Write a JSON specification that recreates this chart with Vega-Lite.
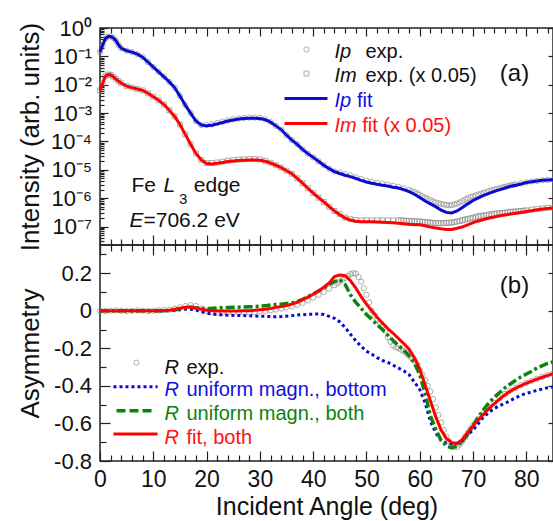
{
  "$schema": "https://vega.github.io/schema/vega-lite/v6.json",
  "padding": {"left": 16, "top": 16, "right": 0, "bottom": 0},
  "spacing": 0,
  "bounds": "flush",
  "config": {
    "font": "Liberation Sans",
    "view": {"stroke": "#222", "strokeWidth": 1.5},
    "axis": {"domain": false, "grid": false, "labelFont": "Liberation Sans", "labelFontSize": 22, "labelColor": "#111", "titleFont": "Liberation Sans", "titleFontSize": 26, "titleFontWeight": "normal", "titleColor": "#111", "tickColor": "#222", "tickWidth": 1.2, "labelFlush": false, "labelOverlap": false},
    "text": {"font": "Liberation Sans", "fontWeight": "normal"}
  },
  "datasets": {
    "one": [{}],
    "top": [
      {"a":0,"ipx":1.41e-1,"imx":6.31e-3,"ipf":1.41e-1,"imf":6.31e-3},
      {"a":0.5,"ipx":2.51e-1,"imx":1.12e-2,"ipf":2.51e-1,"imf":1.12e-2},
      {"a":1,"ipx":4.17e-1,"imx":2.00e-2,"ipf":4.17e-1,"imf":2.00e-2},
      {"a":1.5,"ipx":5.01e-1,"imx":2.29e-2,"ipf":5.01e-1,"imf":2.29e-2},
      {"a":2,"ipx":5.01e-1,"imx":2.24e-2,"ipf":5.01e-1,"imf":2.24e-2},
      {"a":2.5,"ipx":4.47e-1,"imx":1.91e-2,"ipf":4.47e-1,"imf":1.91e-2},
      {"a":3,"ipx":3.55e-1,"imx":1.58e-2,"ipf":3.55e-1,"imf":1.58e-2},
      {"a":3.5,"ipx":2.51e-1,"imx":1.32e-2,"ipf":2.51e-1,"imf":1.32e-2},
      {"a":4,"ipx":1.91e-1,"imx":1.12e-2,"ipf":1.91e-1,"imf":1.12e-2},
      {"a":5,"ipx":1.58e-1,"imx":8.91e-3,"ipf":1.58e-1,"imf":8.91e-3},
      {"a":6,"ipx":1.41e-1,"imx":7.94e-3,"ipf":1.41e-1,"imf":7.94e-3},
      {"a":7,"ipx":1.20e-1,"imx":7.08e-3,"ipf":1.20e-1,"imf":7.08e-3},
      {"a":8,"ipx":9.33e-2,"imx":6.31e-3,"ipf":9.33e-2,"imf":6.31e-3},
      {"a":9,"ipx":6.31e-2,"imx":5.01e-3,"ipf":6.31e-2,"imf":5.01e-3},
      {"a":10,"ipx":4.17e-2,"imx":3.80e-3,"ipf":4.17e-2,"imf":3.80e-3},
      {"a":11,"ipx":2.82e-2,"imx":2.82e-3,"ipf":2.82e-2,"imf":2.82e-3},
      {"a":12,"ipx":1.91e-2,"imx":2.00e-3,"ipf":1.91e-2,"imf":2.00e-3},
      {"a":13,"ipx":1.26e-2,"imx":1.26e-3,"ipf":1.26e-2,"imf":1.26e-3},
      {"a":14,"ipx":7.94e-3,"imx":7.59e-4,"ipf":7.94e-3,"imf":7.59e-4},
      {"a":15,"ipx":3.98e-3,"imx":3.98e-4,"ipf":3.98e-3,"imf":3.98e-4},
      {"a":16,"ipx":1.91e-3,"imx":1.78e-4,"ipf":1.91e-3,"imf":1.78e-4},
      {"a":17,"ipx":1.00e-3,"imx":7.94e-5,"ipf":1.00e-3,"imf":7.94e-5},
      {"a":18,"ipx":5.25e-4,"imx":3.80e-5,"ipf":5.25e-4,"imf":3.80e-5},
      {"a":19,"ipx":3.80e-4,"imx":2.24e-5,"ipf":3.80e-4,"imf":2.24e-5},
      {"a":20,"ipx":3.80e-4,"imx":1.74e-5,"ipf":3.55e-4,"imf":1.66e-5},
      {"a":21,"ipx":3.98e-4,"imx":1.74e-5,"ipf":3.72e-4,"imf":1.62e-5},
      {"a":22,"ipx":4.47e-4,"imx":1.82e-5,"ipf":4.17e-4,"imf":1.70e-5},
      {"a":23,"ipx":5.01e-4,"imx":1.95e-5,"ipf":4.68e-4,"imf":1.82e-5},
      {"a":24,"ipx":5.50e-4,"imx":2.09e-5,"ipf":5.25e-4,"imf":1.95e-5},
      {"a":25,"ipx":6.03e-4,"imx":2.19e-5,"ipf":5.75e-4,"imf":2.04e-5},
      {"a":26,"ipx":6.46e-4,"imx":2.29e-5,"ipf":6.17e-4,"imf":2.14e-5},
      {"a":27,"ipx":6.76e-4,"imx":2.34e-5,"ipf":6.46e-4,"imf":2.19e-5},
      {"a":28,"ipx":6.92e-4,"imx":2.40e-5,"ipf":6.61e-4,"imf":2.24e-5},
      {"a":29,"ipx":6.92e-4,"imx":2.40e-5,"ipf":6.61e-4,"imf":2.24e-5},
      {"a":30,"ipx":6.76e-4,"imx":2.34e-5,"ipf":6.46e-4,"imf":2.19e-5},
      {"a":31,"ipx":6.03e-4,"imx":2.09e-5,"ipf":5.89e-4,"imf":2.00e-5},
      {"a":32,"ipx":4.90e-4,"imx":1.78e-5,"ipf":4.79e-4,"imf":1.74e-5},
      {"a":33,"ipx":3.55e-4,"imx":1.45e-5,"ipf":3.55e-4,"imf":1.45e-5},
      {"a":34,"ipx":2.63e-4,"imx":1.20e-5,"ipf":2.63e-4,"imf":1.20e-5},
      {"a":35,"ipx":1.66e-4,"imx":9.33e-6,"ipf":1.66e-4,"imf":9.33e-6},
      {"a":36,"ipx":1.12e-4,"imx":7.24e-6,"ipf":1.12e-4,"imf":7.24e-6},
      {"a":37,"ipx":7.94e-5,"imx":5.01e-6,"ipf":7.94e-5,"imf":5.01e-6},
      {"a":38,"ipx":5.25e-5,"imx":3.39e-6,"ipf":5.25e-5,"imf":3.39e-6},
      {"a":39,"ipx":3.72e-5,"imx":2.24e-6,"ipf":3.72e-5,"imf":2.24e-6},
      {"a":40,"ipx":2.75e-5,"imx":1.51e-6,"ipf":2.75e-5,"imf":1.51e-6},
      {"a":41,"ipx":2.00e-5,"imx":1.05e-6,"ipf":2.00e-5,"imf":1.05e-6},
      {"a":42,"ipx":1.45e-5,"imx":7.41e-7,"ipf":1.45e-5,"imf":7.41e-7},
      {"a":43,"ipx":1.10e-5,"imx":5.01e-7,"ipf":1.10e-5,"imf":5.01e-7},
      {"a":44,"ipx":8.71e-6,"imx":3.55e-7,"ipf":8.71e-6,"imf":3.55e-7},
      {"a":45,"ipx":8.13e-6,"imx":2.75e-7,"ipf":7.41e-6,"imf":2.63e-7},
      {"a":46,"ipx":7.08e-6,"imx":2.09e-7,"ipf":6.46e-6,"imf":2.00e-7},
      {"a":47,"ipx":6.31e-6,"imx":1.82e-7,"ipf":5.75e-6,"imf":1.70e-7},
      {"a":48,"ipx":5.50e-6,"imx":1.70e-7,"ipf":5.01e-6,"imf":1.55e-7},
      {"a":49,"ipx":4.79e-6,"imx":1.66e-7,"ipf":4.27e-6,"imf":1.48e-7},
      {"a":50,"ipx":4.17e-6,"imx":1.66e-7,"ipf":3.72e-6,"imf":1.48e-7},
      {"a":51,"ipx":3.80e-6,"imx":1.66e-7,"ipf":3.39e-6,"imf":1.48e-7},
      {"a":52,"ipx":3.47e-6,"imx":1.66e-7,"ipf":3.09e-6,"imf":1.45e-7},
      {"a":53,"ipx":3.24e-6,"imx":1.66e-7,"ipf":2.88e-6,"imf":1.41e-7},
      {"a":54,"ipx":3.02e-6,"imx":1.66e-7,"ipf":2.69e-6,"imf":1.38e-7},
      {"a":55,"ipx":2.75e-6,"imx":1.66e-7,"ipf":2.45e-6,"imf":1.35e-7},
      {"a":56,"ipx":2.51e-6,"imx":1.66e-7,"ipf":2.29e-6,"imf":1.32e-7},
      {"a":57,"ipx":2.24e-6,"imx":1.62e-7,"ipf":2.00e-6,"imf":1.26e-7},
      {"a":58,"ipx":1.95e-6,"imx":1.58e-7,"ipf":1.70e-6,"imf":1.20e-7},
      {"a":59,"ipx":1.62e-6,"imx":1.55e-7,"ipf":1.38e-6,"imf":1.17e-7},
      {"a":60,"ipx":1.32e-6,"imx":1.51e-7,"ipf":1.05e-6,"imf":1.15e-7},
      {"a":61,"ipx":1.05e-6,"imx":1.45e-7,"ipf":7.94e-7,"imf":1.07e-7},
      {"a":62,"ipx":8.51e-7,"imx":1.38e-7,"ipf":6.31e-7,"imf":9.55e-8},
      {"a":63,"ipx":7.08e-7,"imx":1.32e-7,"ipf":5.01e-7,"imf":8.91e-8},
      {"a":64,"ipx":6.31e-7,"imx":1.32e-7,"ipf":3.80e-7,"imf":8.32e-8},
      {"a":65,"ipx":5.75e-7,"imx":1.35e-7,"ipf":3.16e-7,"imf":7.94e-8},
      {"a":66,"ipx":5.75e-7,"imx":1.38e-7,"ipf":3.02e-7,"imf":7.94e-8},
      {"a":67,"ipx":6.46e-7,"imx":1.51e-7,"ipf":3.55e-7,"imf":8.71e-8},
      {"a":68,"ipx":7.94e-7,"imx":1.66e-7,"ipf":4.68e-7,"imf":9.77e-8},
      {"a":69,"ipx":1.00e-6,"imx":1.86e-7,"ipf":6.31e-7,"imf":1.15e-7},
      {"a":70,"ipx":1.17e-6,"imx":2.04e-7,"ipf":8.32e-7,"imf":1.38e-7},
      {"a":71,"ipx":1.35e-6,"imx":2.29e-7,"ipf":1.02e-6,"imf":1.58e-7},
      {"a":72,"ipx":1.55e-6,"imx":2.45e-7,"ipf":1.26e-6,"imf":1.78e-7},
      {"a":73,"ipx":1.78e-6,"imx":2.63e-7,"ipf":1.48e-6,"imf":2.00e-7},
      {"a":74,"ipx":2.00e-6,"imx":2.82e-7,"ipf":1.74e-6,"imf":2.19e-7},
      {"a":75,"ipx":2.24e-6,"imx":2.95e-7,"ipf":2.00e-6,"imf":2.40e-7},
      {"a":76,"ipx":2.51e-6,"imx":3.09e-7,"ipf":2.29e-6,"imf":2.57e-7},
      {"a":77,"ipx":2.82e-6,"imx":3.31e-7,"ipf":2.63e-6,"imf":2.75e-7},
      {"a":78,"ipx":3.09e-6,"imx":3.39e-7,"ipf":2.88e-6,"imf":2.95e-7},
      {"a":79,"ipx":3.31e-6,"imx":3.55e-7,"ipf":3.16e-6,"imf":3.16e-7},
      {"a":80,"ipx":3.63e-6,"imx":3.72e-7,"ipf":3.55e-6,"imf":3.39e-7},
      {"a":81,"ipx":3.89e-6,"imx":3.98e-7,"ipf":3.80e-6,"imf":3.63e-7},
      {"a":82,"ipx":4.07e-6,"imx":4.17e-7,"ipf":4.07e-6,"imf":3.89e-7},
      {"a":83,"ipx":4.27e-6,"imx":4.37e-7,"ipf":4.27e-6,"imf":4.17e-7},
      {"a":84,"ipx":4.37e-6,"imx":4.57e-7,"ipf":4.37e-6,"imf":4.37e-7},
      {"a":85,"ipx":4.47e-6,"imx":4.68e-7,"ipf":4.47e-6,"imf":4.47e-7}
    ],
    "topIpExtra": [
      {"a":58.5,"ipx":1.78e-6},{"a":59.5,"ipx":1.48e-6},{"a":60.5,"ipx":1.17e-6},{"a":61.5,"ipx":9.55e-7},
      {"a":62.5,"ipx":7.76e-7},{"a":63.5,"ipx":6.61e-7},{"a":64.5,"ipx":6.03e-7},{"a":65.5,"ipx":5.62e-7},
      {"a":66.5,"ipx":6.03e-7},{"a":67.5,"ipx":7.08e-7},{"a":68.5,"ipx":8.91e-7},{"a":69.5,"ipx":1.10e-6},
      {"a":70.5,"ipx":1.26e-6},{"a":71.5,"ipx":1.45e-6},{"a":72.5,"ipx":1.66e-6},{"a":73.5,"ipx":1.91e-6},
      {"a":74.5,"ipx":2.14e-6},{"a":75.5,"ipx":2.40e-6},{"a":76.5,"ipx":2.69e-6},{"a":77.5,"ipx":2.95e-6}
    ],
    "topImExtra": [
      {"a":56.5,"imx":1.66e-7},{"a":57.5,"imx":1.60e-7},{"a":58.5,"imx":1.57e-7},{"a":59.5,"imx":1.53e-7},
      {"a":60.5,"imx":1.48e-7},{"a":61.5,"imx":1.41e-7},{"a":62.5,"imx":1.35e-7},{"a":63.5,"imx":1.32e-7},
      {"a":64.5,"imx":1.33e-7},{"a":65.5,"imx":1.36e-7},{"a":66.5,"imx":1.44e-7},{"a":67.5,"imx":1.58e-7},
      {"a":68.5,"imx":1.76e-7},{"a":69.5,"imx":1.95e-7},{"a":70.5,"imx":2.16e-7},{"a":71.5,"imx":2.37e-7},
      {"a":72.5,"imx":2.54e-7},{"a":73.5,"imx":2.72e-7},{"a":74.5,"imx":2.88e-7},{"a":75.5,"imx":3.02e-7},
      {"a":76.5,"imx":3.20e-7},{"a":77.5,"imx":3.35e-7},{"a":78.5,"imx":3.47e-7},{"a":79.5,"imx":3.63e-7}
    ],
    "bottom": [
      {"a":0,"rx":0,"ru":0,"rb":0,"rf":0},
      {"a":1,"rx":-0.002,"ru":0,"rb":0,"rf":0},
      {"a":2,"rx":0,"ru":0,"rb":0,"rf":0},
      {"a":3,"rx":0.002,"ru":0,"rb":0,"rf":0},
      {"a":4,"rx":0,"ru":0,"rb":0,"rf":0},
      {"a":5,"rx":-0.002,"ru":0,"rb":0,"rf":0},
      {"a":6,"rx":0,"ru":0,"rb":0,"rf":0},
      {"a":7,"rx":0.002,"ru":0,"rb":0,"rf":0},
      {"a":8,"rx":0,"ru":0,"rb":0,"rf":0},
      {"a":9,"rx":-0.002,"ru":0,"rb":0,"rf":0},
      {"a":10,"rx":0,"ru":0,"rb":0,"rf":0},
      {"a":11,"rx":0.002,"ru":0,"rb":0,"rf":0},
      {"a":12,"rx":0.003,"ru":0,"rb":0,"rf":0.001},
      {"a":13,"rx":0.006,"ru":0.001,"rb":0.001,"rf":0.003},
      {"a":14,"rx":0.011,"ru":0.002,"rb":0.004,"rf":0.008},
      {"a":15,"rx":0.018,"ru":0.005,"rb":0.01,"rf":0.013},
      {"a":16,"rx":0.025,"ru":0.008,"rb":0.015,"rf":0.018},
      {"a":17,"rx":0.03,"ru":0.008,"rb":0.018,"rf":0.02},
      {"a":18,"rx":0.025,"ru":0.003,"rb":0.015,"rf":0.015},
      {"a":19,"rx":0.012,"ru":-0.005,"rb":0.012,"rf":0.008},
      {"a":20,"rx":0,"ru":-0.012,"rb":0.012,"rf":0.002},
      {"a":21,"rx":-0.008,"ru":-0.017,"rb":0.013,"rf":0},
      {"a":22,"rx":-0.01,"ru":-0.02,"rb":0.015,"rf":-0.001},
      {"a":23,"rx":-0.01,"ru":-0.022,"rb":0.016,"rf":-0.002},
      {"a":24,"rx":-0.01,"ru":-0.024,"rb":0.017,"rf":-0.002},
      {"a":25,"rx":-0.01,"ru":-0.025,"rb":0.018,"rf":-0.002},
      {"a":26,"rx":-0.01,"ru":-0.025,"rb":0.019,"rf":-0.001},
      {"a":27,"rx":-0.01,"ru":-0.026,"rb":0.02,"rf":0},
      {"a":28,"rx":-0.009,"ru":-0.027,"rb":0.021,"rf":0},
      {"a":29,"rx":-0.008,"ru":-0.028,"rb":0.022,"rf":0.002},
      {"a":30,"rx":-0.005,"ru":-0.029,"rb":0.024,"rf":0.005},
      {"a":31,"rx":-0.002,"ru":-0.03,"rb":0.027,"rf":0.008},
      {"a":32,"rx":0.002,"ru":-0.031,"rb":0.03,"rf":0.012},
      {"a":33,"rx":0.006,"ru":-0.032,"rb":0.033,"rf":0.018},
      {"a":34,"rx":0.012,"ru":-0.031,"rb":0.035,"rf":0.022},
      {"a":35,"rx":0.018,"ru":-0.029,"rb":0.038,"rf":0.028},
      {"a":36,"rx":0.024,"ru":-0.026,"rb":0.042,"rf":0.035},
      {"a":37,"rx":0.032,"ru":-0.023,"rb":0.05,"rf":0.045},
      {"a":38,"rx":0.042,"ru":-0.021,"rb":0.06,"rf":0.058},
      {"a":39,"rx":0.055,"ru":-0.019,"rb":0.075,"rf":0.072},
      {"a":40,"rx":0.07,"ru":-0.018,"rb":0.09,"rf":0.088},
      {"a":41,"rx":0.085,"ru":-0.018,"rb":0.105,"rf":0.105},
      {"a":42,"rx":0.1,"ru":-0.02,"rb":0.12,"rf":0.125},
      {"a":43,"rx":0.118,"ru":-0.03,"rb":0.14,"rf":0.148},
      {"a":44,"rx":0.136,"ru":-0.04,"rb":0.155,"rf":0.182},
      {"a":45,"rx":0.155,"ru":-0.06,"rb":0.165,"rf":0.19},
      {"a":46,"rx":0.175,"ru":-0.09,"rb":0.14,"rf":0.187},
      {"a":47,"rx":0.195,"ru":-0.125,"rb":0.085,"rf":0.16},
      {"a":48,"rx":0.198,"ru":-0.16,"rb":0.045,"rf":0.12},
      {"a":49,"rx":0.155,"ru":-0.19,"rb":0.013,"rf":0.075},
      {"a":50,"rx":0.085,"ru":-0.215,"rb":-0.02,"rf":0.035},
      {"a":51,"rx":0.0,"ru":-0.232,"rb":-0.045,"rf":0.0},
      {"a":52,"rx":-0.05,"ru":-0.25,"rb":-0.075,"rf":-0.035},
      {"a":53,"rx":-0.08,"ru":-0.265,"rb":-0.1,"rf":-0.065},
      {"a":54,"rx":-0.14,"ru":-0.275,"rb":-0.13,"rf":-0.095},
      {"a":55,"rx":-0.185,"ru":-0.29,"rb":-0.158,"rf":-0.12},
      {"a":56,"rx":-0.2,"ru":-0.305,"rb":-0.185,"rf":-0.148},
      {"a":57,"rx":-0.215,"ru":-0.32,"rb":-0.21,"rf":-0.175},
      {"a":58,"rx":-0.24,"ru":-0.34,"rb":-0.24,"rf":-0.205},
      {"a":59,"rx":-0.265,"ru":-0.38,"rb":-0.28,"rf":-0.25},
      {"a":60,"rx":-0.315,"ru":-0.42,"rb":-0.34,"rf":-0.31},
      {"a":61,"rx":-0.37,"ru":-0.49,"rb":-0.44,"rf":-0.395},
      {"a":62,"rx":-0.43,"ru":-0.59,"rb":-0.56,"rf":-0.48},
      {"a":63,"rx":-0.515,"ru":-0.65,"rb":-0.63,"rf":-0.565},
      {"a":64,"rx":-0.595,"ru":-0.69,"rb":-0.69,"rf":-0.635},
      {"a":65,"rx":-0.67,"ru":-0.705,"rb":-0.72,"rf":-0.68},
      {"a":66,"rx":-0.715,"ru":-0.71,"rb":-0.73,"rf":-0.703},
      {"a":67,"rx":-0.725,"ru":-0.705,"rb":-0.72,"rf":-0.706},
      {"a":68,"rx":-0.695,"ru":-0.695,"rb":-0.695,"rf":-0.685},
      {"a":69,"rx":-0.65,"ru":-0.66,"rb":-0.655,"rf":-0.648},
      {"a":70,"rx":-0.61,"ru":-0.635,"rb":-0.61,"rf":-0.612},
      {"a":71,"rx":-0.575,"ru":-0.6,"rb":-0.565,"rf":-0.58},
      {"a":72,"rx":-0.545,"ru":-0.565,"rb":-0.525,"rf":-0.55},
      {"a":73,"rx":-0.515,"ru":-0.54,"rb":-0.49,"rf":-0.52},
      {"a":74,"rx":-0.49,"ru":-0.52,"rb":-0.46,"rf":-0.495},
      {"a":75,"rx":-0.465,"ru":-0.505,"rb":-0.435,"rf":-0.47},
      {"a":76,"rx":-0.443,"ru":-0.493,"rb":-0.41,"rf":-0.447},
      {"a":77,"rx":-0.425,"ru":-0.478,"rb":-0.39,"rf":-0.428},
      {"a":78,"rx":-0.41,"ru":-0.463,"rb":-0.37,"rf":-0.412},
      {"a":79,"rx":-0.396,"ru":-0.45,"rb":-0.352,"rf":-0.398},
      {"a":80,"rx":-0.384,"ru":-0.44,"rb":-0.337,"rf":-0.386},
      {"a":81,"rx":-0.373,"ru":-0.432,"rb":-0.322,"rf":-0.375},
      {"a":82,"rx":-0.362,"ru":-0.424,"rb":-0.305,"rf":-0.364},
      {"a":83,"rx":-0.352,"ru":-0.417,"rb":-0.292,"rf":-0.354},
      {"a":84,"rx":-0.342,"ru":-0.41,"rb":-0.28,"rf":-0.344},
      {"a":85,"rx":-0.335,"ru":-0.405,"rb":-0.272,"rf":-0.335}
    ],
    "bottomExtra": [
      {"a":44.5,"rx":0.145},{"a":45.5,"rx":0.165},{"a":46.5,"rx":0.185},{"a":47.5,"rx":0.2},
      {"a":48.5,"rx":0.18},{"a":49.5,"rx":0.12},{"a":50.5,"rx":0.045},{"a":51.5,"rx":-0.025},
      {"a":52.5,"rx":-0.065},{"a":53.5,"rx":-0.105},{"a":54.5,"rx":-0.165},{"a":55.5,"rx":-0.195},
      {"a":56.5,"rx":-0.208},{"a":57.5,"rx":-0.227},{"a":58.5,"rx":-0.252},{"a":59.5,"rx":-0.285},
      {"a":60.5,"rx":-0.34},{"a":61.5,"rx":-0.4},{"a":62.5,"rx":-0.47},{"a":63.5,"rx":-0.555},
      {"a":64.5,"rx":-0.635},{"a":65.5,"rx":-0.695},{"a":66.5,"rx":-0.724},{"a":67.5,"rx":-0.712},
      {"a":68.5,"rx":-0.672},{"a":69.5,"rx":-0.63}
    ]
  },
  "vconcat": [
    {
      "width": 453,
      "height": 217,
      "data": {"name": "top"},
      "resolve": {"axis": {"x": "independent", "y": "independent"}},
      "layer": [
        {
          "mark": {"type": "point", "shape": "circle", "filled": false, "color": "#8a8a8a", "size": 28, "strokeWidth": 1},
          "encoding": {
            "x": {"field": "a", "type": "quantitative", "scale": {"domain": [0, 85], "nice": false, "zero": false},
              "axis": {"orient": "bottom", "values": [0,10,20,30,40,50,60,70,80], "tickSize": -10, "labels": false, "title": null}},
            "y": {"field": "ipx", "type": "quantitative", "scale": {"type": "log", "domain": [2.24e-8, 1], "nice": false},
              "axis": {"orient": "left", "values": [1e-7,1e-6,1e-5,1e-4,1e-3,1e-2,1e-1,1], "tickSize": -8, "labelPadding": 16.5,
                "labelExpr": "round(log(datum.value)/LN10) == 0 ? '10⁰' : '10⁻' + ['','¹','²','³','⁴','⁵','⁶','⁷','⁸'][abs(round(log(datum.value)/LN10))]",
                "title": "Intensity (arb. units)", "titleX": -61.5, "titleBaseline": "alphabetic"}}
          }
        },
        {
          "mark": {"type": "point", "shape": "square", "filled": false, "color": "#8a8a8a", "size": 24, "strokeWidth": 1},
          "encoding": {
            "x": {"field": "a", "type": "quantitative", "scale": {"domain": [0, 85], "nice": false, "zero": false},
              "axis": {"orient": "bottom", "values": [2,4,6,8,12,14,16,18,22,24,26,28,32,34,36,38,42,44,46,48,52,54,56,58,62,64,66,68,72,74,76,78,82,84], "tickSize": -6, "labels": false, "title": null}},
            "y": {"field": "imx", "type": "quantitative", "scale": {"type": "log", "domain": [2.24e-8, 1], "nice": false},
              "axis": {"orient": "left", "values": [3e-8,4e-8,5e-8,6e-8,7e-8,8e-8,9e-8,2e-7,3e-7,4e-7,5e-7,6e-7,7e-7,8e-7,9e-7,2e-6,3e-6,4e-6,5e-6,6e-6,7e-6,8e-6,9e-6,2e-5,3e-5,4e-5,5e-5,6e-5,7e-5,8e-5,9e-5,2e-4,3e-4,4e-4,5e-4,6e-4,7e-4,8e-4,9e-4,2e-3,3e-3,4e-3,5e-3,6e-3,7e-3,8e-3,9e-3,2e-2,3e-2,4e-2,5e-2,6e-2,7e-2,8e-2,9e-2,0.2,0.3,0.4,0.5,0.6,0.7,0.8,0.9], "tickSize": -4, "labels": false, "title": null}}
          }
        },
        {
          "data": {"name": "topIpExtra"},
          "mark": {"type": "point", "shape": "circle", "filled": false, "color": "#8a8a8a", "size": 28, "strokeWidth": 1},
          "encoding": {
            "x": {"field": "a", "type": "quantitative", "axis": null},
            "y": {"field": "ipx", "type": "quantitative", "axis": null}
          }
        },
        {
          "data": {"name": "topImExtra"},
          "mark": {"type": "point", "shape": "square", "filled": false, "color": "#8a8a8a", "size": 24, "strokeWidth": 1},
          "encoding": {
            "x": {"field": "a", "type": "quantitative", "axis": null},
            "y": {"field": "imx", "type": "quantitative", "axis": null}
          }
        },
        {
          "mark": {"type": "line", "color": "#0a0ad0", "strokeWidth": 3},
          "encoding": {
            "x": {"field": "a", "type": "quantitative", "scale": {"domain": [0, 85], "nice": false, "zero": false},
              "axis": {"orient": "top", "values": [0,10,20,30,40,50,60,70,80], "tickSize": -8, "labels": false, "title": null}},
            "y": {"field": "ipf", "type": "quantitative", "scale": {"type": "log", "domain": [2.24e-8, 1], "nice": false},
              "axis": {"orient": "right", "values": [1e-7,1e-6,1e-5,1e-4,1e-3,1e-2,1e-1,1], "tickSize": -5, "labels": false, "title": null}}
          }
        },
        {
          "mark": {"type": "line", "color": "#ff0000", "strokeWidth": 3},
          "encoding": {
            "x": {"field": "a", "type": "quantitative", "scale": {"domain": [0, 85], "nice": false, "zero": false},
              "axis": {"orient": "top", "values": [2,4,6,8,12,14,16,18,22,24,26,28,32,34,36,38,42,44,46,48,52,54,56,58,62,64,66,68,72,74,76,78,82,84], "tickSize": -5, "labels": false, "title": null}},
            "y": {"field": "imf", "type": "quantitative", "scale": {"type": "log", "domain": [2.24e-8, 1], "nice": false}, "axis": null}
          }
        },
        {"data": {"name": "one"}, "mark": {"type": "point", "shape": "circle", "filled": false, "color": "#8a8a8a", "size": 28, "strokeWidth": 1},
         "encoding": {"x": {"datum": 38.74, "axis": null}, "y": {"datum": 0.1746, "axis": null}}},
        {"data": {"name": "one"}, "mark": {"type": "point", "shape": "square", "filled": false, "color": "#8a8a8a", "size": 24, "strokeWidth": 1},
         "encoding": {"x": {"datum": 38.74, "axis": null}, "y": {"datum": 0.02489, "axis": null}}},
        {"data": {"name": "one"}, "mark": {"type": "rule", "color": "#0a0ad0", "strokeWidth": 3},
         "encoding": {"x": {"datum": 34.62, "axis": null}, "x2": {"datum": 42.68}, "y": {"datum": 0.003273, "axis": null}}},
        {"data": {"name": "one"}, "mark": {"type": "rule", "color": "#ff0000", "strokeWidth": 3},
         "encoding": {"x": {"datum": 34.62, "axis": null}, "x2": {"datum": 42.68}, "y": {"datum": 0.0004305, "axis": null}}},
        {"data": {"name": "one"}, "mark": {"type": "text", "text": "Ip", "fontSize": 20, "fontStyle": "italic", "align": "left", "baseline": "middle", "fill": "#111"},
         "encoding": {"x": {"datum": 44.0, "axis": null}, "y": {"datum": 0.138, "axis": null}}},
        {"data": {"name": "one"}, "mark": {"type": "text", "text": "exp.", "fontSize": 20, "align": "left", "baseline": "middle", "fill": "#111"},
         "encoding": {"x": {"datum": 49.8, "axis": null}, "y": {"datum": 0.138, "axis": null}}},
        {"data": {"name": "one"}, "mark": {"type": "text", "text": "Im", "fontSize": 20, "fontStyle": "italic", "align": "left", "baseline": "middle", "fill": "#111"},
         "encoding": {"x": {"datum": 44.0, "axis": null}, "y": {"datum": 0.02084, "axis": null}}},
        {"data": {"name": "one"}, "mark": {"type": "text", "text": "exp. (x 0.05)", "fontSize": 20, "align": "left", "baseline": "middle", "fill": "#111"},
         "encoding": {"x": {"datum": 49.8, "axis": null}, "y": {"datum": 0.02084, "axis": null}}},
        {"data": {"name": "one"}, "mark": {"type": "text", "text": "Ip", "fontSize": 20, "fontStyle": "italic", "align": "left", "baseline": "middle", "fill": "#1010e0"},
         "encoding": {"x": {"datum": 44.0, "axis": null}, "y": {"datum": 0.002673, "axis": null}}},
        {"data": {"name": "one"}, "mark": {"type": "text", "text": "fit", "fontSize": 20, "align": "left", "baseline": "middle", "fill": "#1010e0"},
         "encoding": {"x": {"datum": 48.2, "axis": null}, "y": {"datum": 0.002673, "axis": null}}},
        {"data": {"name": "one"}, "mark": {"type": "text", "text": "Im", "fontSize": 20, "fontStyle": "italic", "align": "left", "baseline": "middle", "fill": "#ff1010"},
         "encoding": {"x": {"datum": 44.0, "axis": null}, "y": {"datum": 0.0003516, "axis": null}}},
        {"data": {"name": "one"}, "mark": {"type": "text", "text": "fit (x 0.05)", "fontSize": 20, "align": "left", "baseline": "middle", "fill": "#ff1010"},
         "encoding": {"x": {"datum": 49.2, "axis": null}, "y": {"datum": 0.0003516, "axis": null}}},
        {"data": {"name": "one"}, "mark": {"type": "text", "text": "(a)", "fontSize": 24, "align": "center", "baseline": "middle", "fill": "#111"},
         "encoding": {"x": {"datum": 77.77, "axis": null}, "y": {"datum": 0.02312, "axis": null}}},
        {"data": {"name": "one"}, "mark": {"type": "text", "text": "Fe", "fontSize": 21, "align": "left", "baseline": "middle", "fill": "#111"},
         "encoding": {"x": {"datum": 5.91, "axis": null}, "y": {"datum": 2.65e-6, "axis": null}}},
        {"data": {"name": "one"}, "mark": {"type": "text", "text": "L", "fontSize": 21, "fontStyle": "italic", "align": "left", "baseline": "middle", "fill": "#111"},
         "encoding": {"x": {"datum": 11.9, "axis": null}, "y": {"datum": 2.65e-6, "axis": null}}},
        {"data": {"name": "one"}, "mark": {"type": "text", "text": "3", "fontSize": 15, "align": "left", "baseline": "middle", "fill": "#111"},
         "encoding": {"x": {"datum": 14.8, "axis": null}, "y": {"datum": 9.62e-7, "axis": null}}},
        {"data": {"name": "one"}, "mark": {"type": "text", "text": "edge", "fontSize": 21, "align": "left", "baseline": "middle", "fill": "#111"},
         "encoding": {"x": {"datum": 17.6, "axis": null}, "y": {"datum": 2.65e-6, "axis": null}}},
        {"data": {"name": "one"}, "mark": {"type": "text", "text": "E", "fontSize": 21, "fontStyle": "italic", "align": "left", "baseline": "middle", "fill": "#111"},
         "encoding": {"x": {"datum": 5.53, "axis": null}, "y": {"datum": 1.51e-7, "axis": null}}},
        {"data": {"name": "one"}, "mark": {"type": "text", "text": "=706.2 eV", "fontSize": 21, "align": "left", "baseline": "middle", "fill": "#111"},
         "encoding": {"x": {"datum": 8.16, "axis": null}, "y": {"datum": 1.51e-7, "axis": null}}}
      ]
    },
    {
      "width": 453,
      "height": 216,
      "data": {"name": "bottom"},
      "resolve": {"axis": {"x": "independent", "y": "independent"}},
      "layer": [
        {
          "mark": {"type": "point", "shape": "circle", "filled": false, "color": "#8a8a8a", "size": 28, "strokeWidth": 1},
          "encoding": {
            "x": {"field": "a", "type": "quantitative", "scale": {"domain": [0, 85], "nice": false, "zero": false},
              "axis": {"orient": "bottom", "values": [0,10,20,30,40,50,60,70,80], "tickSize": -10, "labelPadding": 17, "labelFontSize": 23,
                "title": "Incident Angle (deg)", "titleFontSize": 25, "titleY": 53, "titleBaseline": "alphabetic"}},
            "y": {"field": "rx", "type": "quantitative", "scale": {"domain": [-0.8, 0.35], "nice": false, "zero": false},
              "axis": {"orient": "left", "values": [-0.8,-0.6,-0.4,-0.2,0,0.2], "tickSize": -10, "labelPadding": 18.5,
                "labelExpr": "datum.value == 0 ? '0' : replace(format(datum.value, '.1f'), '−', '-')",
                "title": "Asymmetry", "titleX": -61.5, "titleBaseline": "alphabetic"}}
          }
        },
        {
          "data": {"name": "bottomExtra"},
          "mark": {"type": "point", "shape": "circle", "filled": false, "color": "#8a8a8a", "size": 28, "strokeWidth": 1},
          "encoding": {
            "x": {"field": "a", "type": "quantitative", "axis": null},
            "y": {"field": "rx", "type": "quantitative", "axis": null}
          }
        },
        {
          "mark": {"type": "line", "color": "#0a0ad0", "strokeWidth": 3, "strokeDash": [3, 3]},
          "encoding": {
            "x": {"field": "a", "type": "quantitative", "scale": {"domain": [0, 85], "nice": false, "zero": false},
              "axis": {"orient": "bottom", "values": [2,4,6,8,12,14,16,18,22,24,26,28,32,34,36,38,42,44,46,48,52,54,56,58,62,64,66,68,72,74,76,78,82,84], "tickSize": -6, "labels": false, "title": null}},
            "y": {"field": "ru", "type": "quantitative", "scale": {"domain": [-0.8, 0.35], "nice": false, "zero": false},
              "axis": {"orient": "left", "values": [-0.7,-0.5,-0.3,-0.1,0.1,0.3], "tickSize": -6, "labels": false, "title": null}}
          }
        },
        {
          "mark": {"type": "line", "color": "#0a840a", "strokeWidth": 3.5, "strokeDash": [9, 3, 3, 3]},
          "encoding": {
            "x": {"field": "a", "type": "quantitative", "scale": {"domain": [0, 85], "nice": false, "zero": false},
              "axis": {"orient": "top", "values": [0,10,20,30,40,50,60,70,80], "tickSize": -10, "labels": false, "title": null}},
            "y": {"field": "rb", "type": "quantitative", "scale": {"domain": [-0.8, 0.35], "nice": false, "zero": false},
              "axis": {"orient": "right", "values": [-0.8,-0.6,-0.4,-0.2,0,0.2], "tickSize": -5, "labels": false, "title": null}}
          }
        },
        {
          "mark": {"type": "line", "color": "#ff0000", "strokeWidth": 3},
          "encoding": {
            "x": {"field": "a", "type": "quantitative", "scale": {"domain": [0, 85], "nice": false, "zero": false},
              "axis": {"orient": "top", "values": [2,4,6,8,12,14,16,18,22,24,26,28,32,34,36,38,42,44,46,48,52,54,56,58,62,64,66,68,72,74,76,78,82,84], "tickSize": -6, "labels": false, "title": null}},
            "y": {"field": "rf", "type": "quantitative", "scale": {"domain": [-0.8, 0.35], "nice": false, "zero": false}, "axis": null}
          }
        },
        {"data": {"name": "one"}, "mark": {"type": "point", "shape": "circle", "filled": false, "color": "#8a8a8a", "size": 28, "strokeWidth": 1},
         "encoding": {"x": {"datum": 6.85, "axis": null}, "y": {"datum": -0.2767, "axis": null}}},
        {"data": {"name": "one"}, "mark": {"type": "rule", "color": "#0a0ad0", "strokeWidth": 3, "strokeDash": [3, 3]},
         "encoding": {"x": {"datum": 2.53, "axis": null}, "x2": {"datum": 10.79}, "y": {"datum": -0.4045, "axis": null}}},
        {"data": {"name": "one"}, "mark": {"type": "rule", "color": "#0a840a", "strokeWidth": 3.5, "strokeDash": [9, 4]},
         "encoding": {"x": {"datum": 3.1, "axis": null}, "x2": {"datum": 10.2}, "y": {"datum": -0.5323, "axis": null}}},
        {"data": {"name": "one"}, "mark": {"type": "rule", "color": "#ff0000", "strokeWidth": 3},
         "encoding": {"x": {"datum": 2.53, "axis": null}, "x2": {"datum": 10.79}, "y": {"datum": -0.6564, "axis": null}}},
        {"data": {"name": "one"}, "mark": {"type": "text", "text": "R", "fontSize": 20, "fontStyle": "italic", "align": "left", "baseline": "middle", "fill": "#111"},
         "encoding": {"x": {"datum": 12.1, "axis": null}, "y": {"datum": -0.3044, "axis": null}}},
        {"data": {"name": "one"}, "mark": {"type": "text", "text": "exp.", "fontSize": 20, "align": "left", "baseline": "middle", "fill": "#111"},
         "encoding": {"x": {"datum": 16.23, "axis": null}, "y": {"datum": -0.3044, "axis": null}}},
        {"data": {"name": "one"}, "mark": {"type": "text", "text": "R", "fontSize": 20, "fontStyle": "italic", "align": "left", "baseline": "middle", "fill": "#1010e0"},
         "encoding": {"x": {"datum": 12.1, "axis": null}, "y": {"datum": -0.4232, "axis": null}}},
        {"data": {"name": "one"}, "mark": {"type": "text", "text": "uniform magn., bottom", "fontSize": 20, "align": "left", "baseline": "middle", "fill": "#1010e0"},
         "encoding": {"x": {"datum": 16.23, "axis": null}, "y": {"datum": -0.4232, "axis": null}}},
        {"data": {"name": "one"}, "mark": {"type": "text", "text": "R", "fontSize": 20, "fontStyle": "italic", "align": "left", "baseline": "middle", "fill": "#0a840a"},
         "encoding": {"x": {"datum": 12.1, "axis": null}, "y": {"datum": -0.551, "axis": null}}},
        {"data": {"name": "one"}, "mark": {"type": "text", "text": "uniform magn., both", "fontSize": 20, "align": "left", "baseline": "middle", "fill": "#0a840a"},
         "encoding": {"x": {"datum": 16.23, "axis": null}, "y": {"datum": -0.551, "axis": null}}},
        {"data": {"name": "one"}, "mark": {"type": "text", "text": "R", "fontSize": 20, "fontStyle": "italic", "align": "left", "baseline": "middle", "fill": "#ff1010"},
         "encoding": {"x": {"datum": 12.1, "axis": null}, "y": {"datum": -0.6788, "axis": null}}},
        {"data": {"name": "one"}, "mark": {"type": "text", "text": "fit, both", "fontSize": 20, "align": "left", "baseline": "middle", "fill": "#ff1010"},
         "encoding": {"x": {"datum": 16.23, "axis": null}, "y": {"datum": -0.6788, "axis": null}}},
        {"data": {"name": "one"}, "mark": {"type": "text", "text": "(b)", "fontSize": 24, "align": "center", "baseline": "middle", "fill": "#111"},
         "encoding": {"x": {"datum": 77.77, "axis": null}, "y": {"datum": 0.1296, "axis": null}}}
      ]
    }
  ]
}
